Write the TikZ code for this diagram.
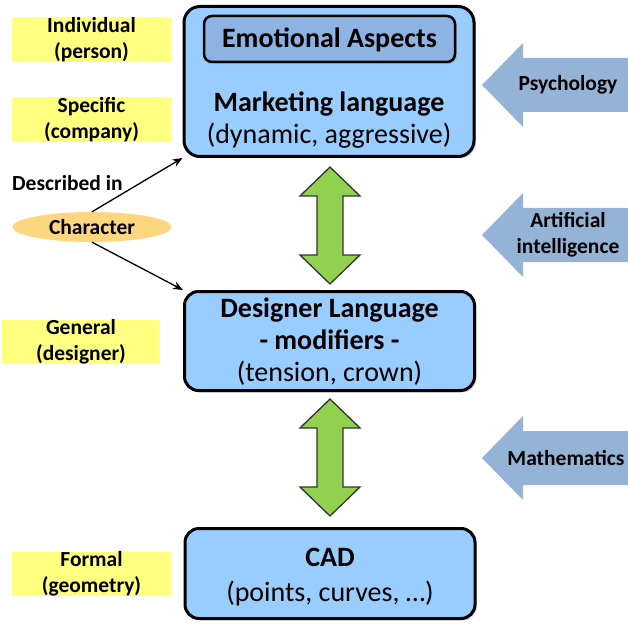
\documentclass[tikz,border=0pt]{standalone}
\usepackage{fontspec}
\setmainfont{Carlito}
\usetikzlibrary{calc,shadows,arrows.meta,shapes.geometric}
\definecolor{boxblue}{RGB}{153,204,255}
\definecolor{innerblue}{RGB}{141,179,226}
\definecolor{ygreen}{RGB}{146,208,80}
\definecolor{hl}{RGB}{255,255,128}
\definecolor{orng}{RGB}{255,214,128}
\definecolor{steel}{RGB}{149,179,215}
\newcommand\myDblArrow[2]{%
  \filldraw[garrow] (#1) -- ($(#1)+(30,29)$) -- ($(#1)+(13,29)$) -- ($(#2)+(13,-29)$) -- ($(#2)+(30,-29)$) -- (#2)
   -- ($(#2)+(-30,-29)$) -- ($(#2)+(-13,-29)$) -- ($(#1)+(-13,29)$) -- ($(#1)+(-30,29)$) -- cycle;}
\newcommand\myLeftArrow[1]{%
  \fill[barrow] (#1) -- ($(#1)+(41,-42)$) -- ($(#1)+(41,-27)$) -- ($(#1)+(146,-27)$) -- ($(#1)+(146,27)$)
   -- ($(#1)+(41,27)$) -- ($(#1)+(41,42)$) -- cycle;}
\begin{document}
\begin{tikzpicture}[x=1pt,y=-1pt,
  bigbox/.style={draw=black, line width=3pt, fill=boxblue, rounded corners=16pt, minimum width=290pt,
     drop shadow={shadow xshift=2pt,shadow yshift=-2pt,opacity=0.3}},
  innerbox/.style={draw=black, line width=2.5pt, fill=innerblue, rounded corners=8pt, minimum width=251pt, minimum height=46pt,
     drop shadow={shadow xshift=2pt,shadow yshift=-2pt,opacity=0.3}},
  boxtxt/.style={align=center, font=\fontsize{28}{32}\selectfont, inner sep=0pt},
  yellow/.style={fill=hl, minimum width=159pt, minimum height=45pt, inner sep=0pt, align=center,
     font=\bfseries\fontsize{21.5}{26}\selectfont},
  lbl/.style={font=\bfseries\fontsize{21.5}{26}\selectfont, align=center, inner sep=0pt},
  garrow/.style={fill=ygreen, draw=black!80, line width=1.3pt, line join=miter},
  barrow/.style={fill=steel},
  link/.style={draw=black, line width=1.3pt, -{Stealth[length=10pt,width=8pt]}}
]
\useasboundingbox (0,0) rectangle (628,628);

% main boxes
\node[bigbox, minimum height=150pt] (mkt) at (329,81.5) {};
\node[innerbox] (emo) at (329.5,39) {};
\node[boxtxt, font=\bfseries\fontsize{28}{32}\selectfont, anchor=base] (emotxt) at (329.5,48) {Emotional Aspects};
\node[boxtxt] (mkttxt) at (329,120) {\textbf{Marketing language}\\(dynamic, aggressive)};

\node[bigbox, rounded corners=14pt, minimum height=99pt] (des) at (329.5,341) {};
\node[boxtxt] (destxt) at (329.5,342) {\textbf{Designer Language}\\\textbf{- modifiers -}\\(tension, crown)};

\node[bigbox, rounded corners=14pt, minimum height=90pt] (cad) at (330,573.5) {};
\node[boxtxt, font=\fontsize{28}{35}\selectfont] (cadtxt) at (330,577) {\textbf{CAD}\\(points, curves, \dots)};

% green double arrows
\coordinate (a1t) at ($(mkt.south)+(1,9)$);
\coordinate (a1b) at ($(des.north)+(0.5,-6)$);
\coordinate (a2t) at ($(des.south)+(0.5,7)$);
\coordinate (a2b) at ($(cad.north)+(0,-11)$);
\myDblArrow{a1t}{a1b}
\myDblArrow{a2t}{a2b}

% left labels
\node[yellow] (ind) at (91.5,39.5) {Individual\\(person)};
\node[yellow] (spec) at (91.5,119.5) {Specific\\(company)};
\node[yellow, minimum width=158pt, minimum height=44pt] (gen) at (81,342) {General\\(designer)};
\node[yellow, minimum height=44pt] (form) at (91.5,574) {Formal\\(geometry)};
\node[lbl, anchor=west] (desc) at (12,183) {Described in};
\node[ellipse, fill=orng, minimum width=159pt, minimum height=30pt, inner sep=0pt,
      font=\bfseries\fontsize{21.5}{26}\selectfont] (char) at (92,227) {Character};
\draw[link] (char.north) -- (mkt.south west);
\draw[link] (char.south) -- (des.north west);

% right arrows
\coordinate (p1) at (482,85);
\coordinate (p2) at (482,235);
\coordinate (p3) at (482,458);
\myLeftArrow{p1}
\myLeftArrow{p2}
\myLeftArrow{p3}
\node[lbl] (psy) at (568,85) {Psychology};
\node[lbl] (ai) at (568,235) {Artificial\\intelligence};
\node[lbl] (math) at (566,458) {Mathematics};
\end{tikzpicture}
\end{document}
